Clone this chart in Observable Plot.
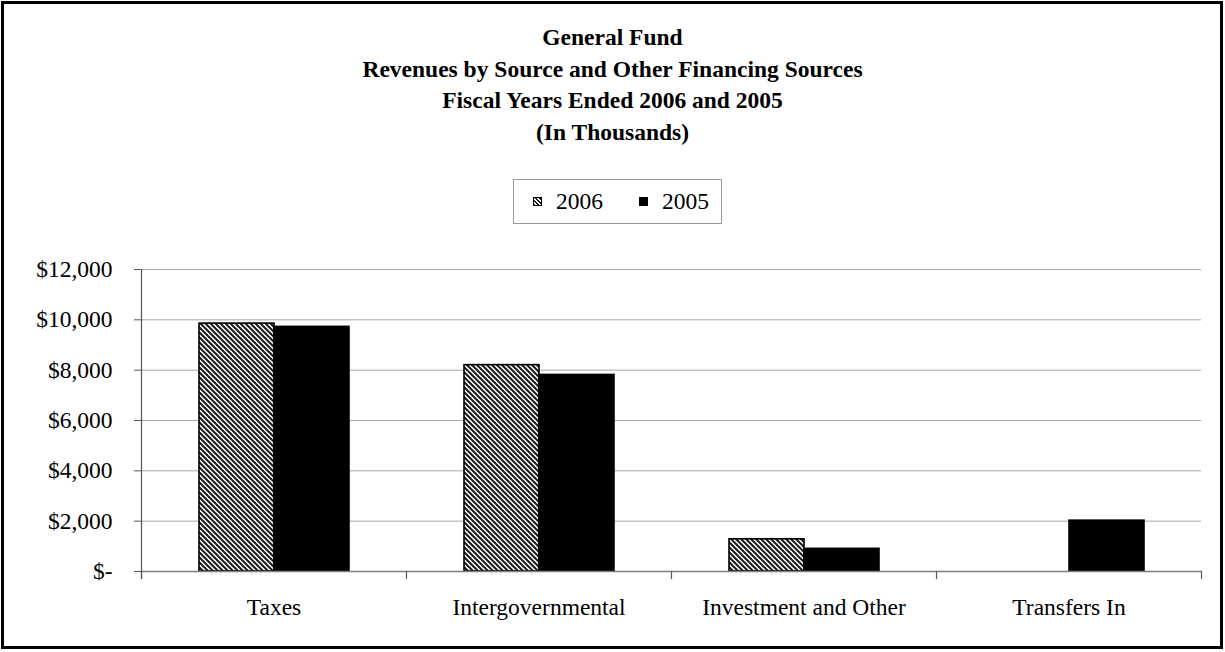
<!DOCTYPE html>
<html><head><meta charset="utf-8">
<script src="https://cdn.jsdelivr.net/npm/d3@7"></script>
<script src="https://cdn.jsdelivr.net/npm/@observablehq/plot@0.6"></script>
<style>
body{margin:0;background:#fff;}
#wrap{position:relative;width:1225px;height:652px;font-family:"Liberation Serif","Times New Roman",serif;color:#000;overflow:hidden;}
#chart{position:absolute;left:0;top:0;}
#title{position:absolute;left:0;top:22px;width:1225px;text-align:center;font-weight:bold;font-size:23.5px;line-height:31.7px;}
#legend{position:absolute;left:513px;top:179px;width:209px;height:45px;box-sizing:border-box;border:1px solid #999;font-size:23.5px;font-family:"Liberation Serif","Times New Roman",serif;}
#legend .sw{position:absolute;top:17px;width:9px;height:9px;box-sizing:border-box;border:1px solid #000;}
#legend .lb{position:absolute;top:8px;line-height:26px;}
#border{position:absolute;left:1px;top:1px;width:1222px;height:648px;box-sizing:border-box;border:3px solid #000;pointer-events:none;}
</style></head><body>
<div id="wrap">
  <div id="chart"></div>
  <div id="title"></div>
  <div id="legend"></div>
  <div id="border"></div>
</div>
<script>
const titleLines = ["General Fund", "Revenues by Source and Other Financing Sources", "Fiscal Years Ended 2006 and 2005", "(In Thousands)"];
const categories = ["Taxes", "Intergovernmental", "Investment and Other", "Transfers In"];
const years = ["2006", "2005"];
const values2006 = [9850, 8200, 1280, 0];
const values2005 = [9720, 7810, 900, 2020];
const yTicks = [0, 2000, 4000, 6000, 8000, 10000, 12000];

const rows = categories.flatMap((c, i) => [
  {category: c, year: years[0], value: values2006[i]},
  {category: c, year: years[1], value: values2005[i]}
]);

// title
const t = document.getElementById("title");
titleLines.forEach(s => { const d = document.createElement("div"); d.textContent = s; t.appendChild(d); });

// legend
const lg = document.getElementById("legend");
const swLeft = [19, 125], lbLeft = [42, 148];
years.forEach((y, i) => {
  const sw = document.createElement("div");
  sw.className = "sw";
  sw.style.left = swLeft[i] + "px";
  sw.style.background = i === 0 ? "repeating-linear-gradient(45deg, #1a1a1a 0px, #1a1a1a 1.3px, #fff 1.3px, #fff 2.8px)" : "#000";
  lg.appendChild(sw);
  const lb = document.createElement("div");
  lb.className = "lb";
  lb.style.left = lbLeft[i] + "px";
  lb.textContent = y;
  lg.appendChild(lb);
});

const fmt = d => d === 0 ? "$-" : "$" + d3.format(",")(d);
const plotH = 652 - 269 - 81;

const chart = Plot.plot({
  width: 1225, height: 652,
  marginTop: 269, marginBottom: 81, marginLeft: 139, marginRight: 23,
  style: {fontFamily: '"Liberation Serif", "Times New Roman", serif', fontSize: "23.5px", background: "transparent", color: "#000"},
  fx: {domain: categories, padding: 0, label: null},
  x: {domain: years, paddingInner: 0, paddingOuter: 0.75, axis: null},
  y: {domain: [0, 12000], label: null},
  marks: [
    Plot.gridY(yTicks, {stroke: "#a6a6a6", strokeOpacity: 1, strokeWidth: 1}),
    Plot.barY(rows, {filter: d => d.year === years[0] && d.value > 0, fx: "category", x: "year", y: "value", fill: "url(#hatch)", stroke: "#000", strokeWidth: 1.6}),
    Plot.barY(rows, {filter: d => d.year === years[1] && d.value > 0, fx: "category", x: "year", y: "value", fill: "#000", stroke: "#000", strokeWidth: 1.6}),
    Plot.ruleY([0], {stroke: "#7f7f7f", strokeWidth: 1.6}),
    Plot.frame({anchor: "left", facetAnchor: "left", stroke: "#555", strokeWidth: 1.2, insetBottom: -7}),
    Plot.frame({anchor: "left", stroke: "#555", strokeWidth: 1.2, insetTop: plotH, insetBottom: -7}),
    Plot.frame({anchor: "right", facetAnchor: "right", stroke: "#555", strokeWidth: 1.2, insetTop: plotH, insetBottom: -7}),
    Plot.axisY(yTicks, {tickSize: 7, tickPadding: 22, tickFormat: fmt, stroke: "#555", label: null}),
    Plot.axisFx({anchor: "bottom", tickSize: 0, tickPadding: 27, label: null})
  ]
});

const defs = d3.select(chart).insert("defs", ":first-child");
const pat = defs.append("pattern").attr("id", "hatch").attr("patternUnits", "userSpaceOnUse").attr("width", 5).attr("height", 5);
pat.append("rect").attr("width", 5).attr("height", 5).attr("fill", "#fff");
pat.append("path").attr("d", "M-1,-1L6,6M-1,4L1,6M4,-1L6,1").attr("stroke", "#1a1a1a").attr("stroke-width", 2);

document.getElementById("chart").appendChild(chart);
</script>
</body></html>
